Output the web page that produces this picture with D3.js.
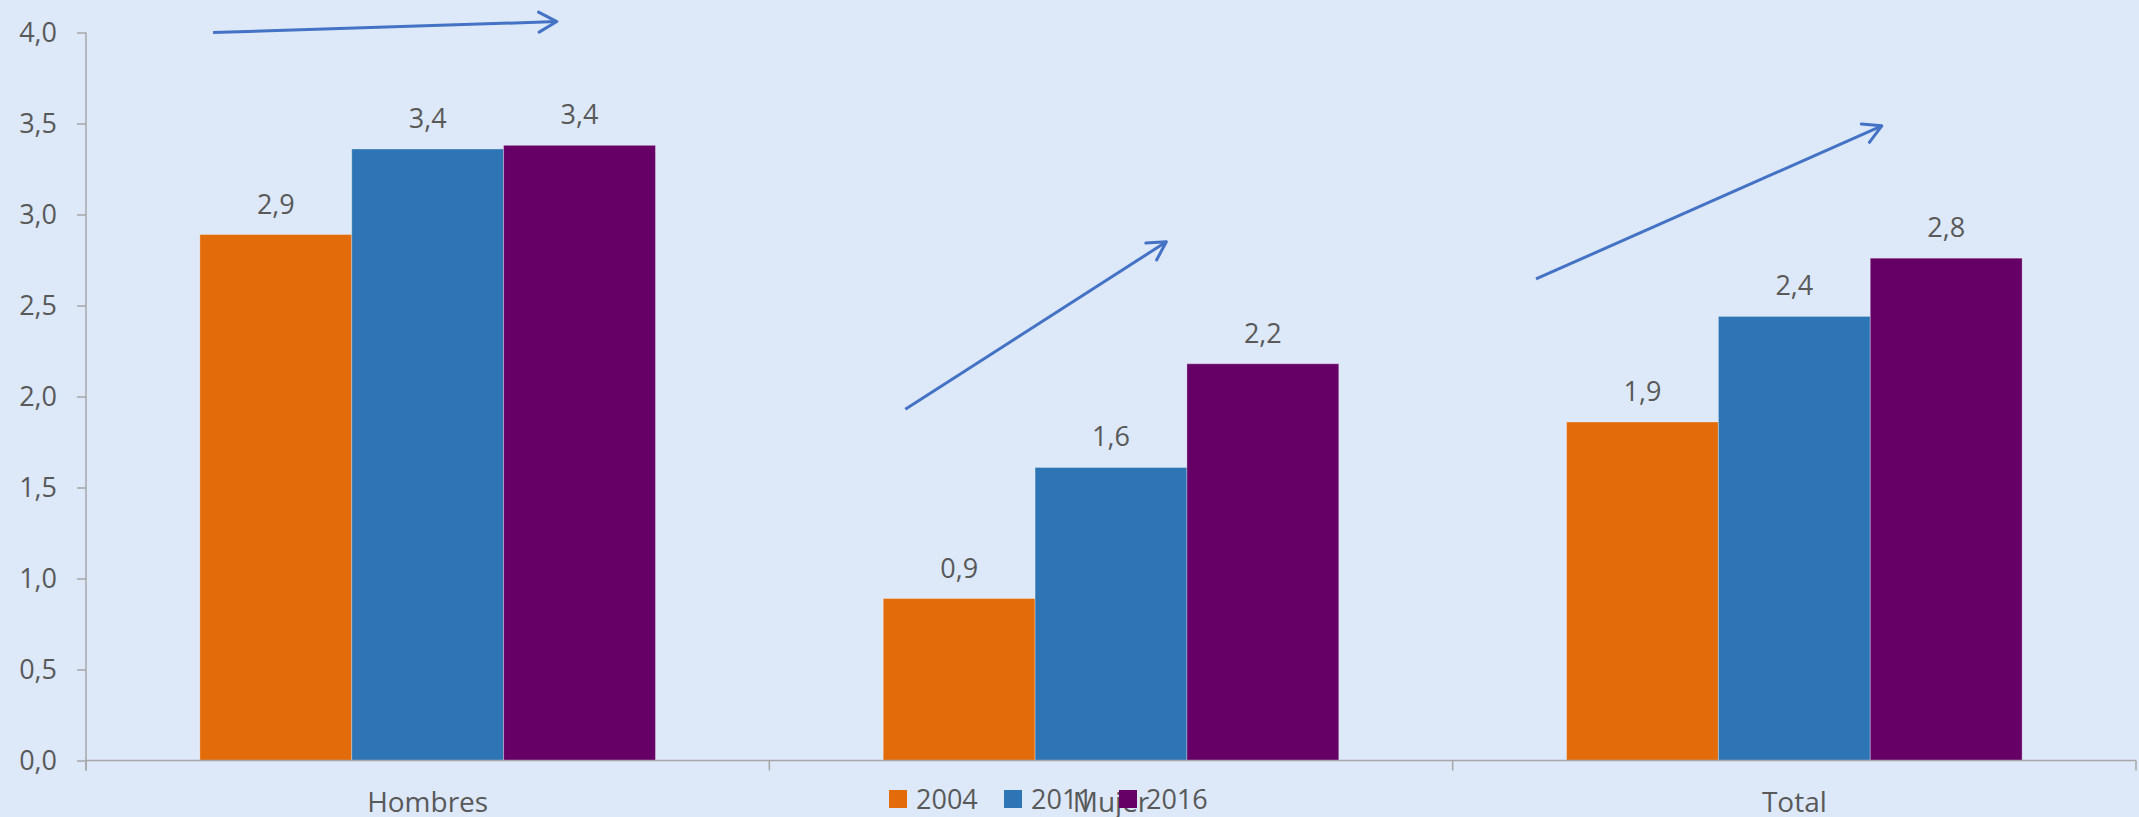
<!DOCTYPE html>
<html>
<head>
<meta charset="utf-8">
<script src="https://cdn.jsdelivr.net/npm/d3@7"></script>
<style>
  html, body { margin: 0; padding: 0; background: #dde9f9; }
  svg { display: block; }
  text { font-family: "Open Sans", sans-serif; fill: #595959; }
</style>
</head>
<body>
<div id="chart"></div>
<script>
// data
var categories = ["Hombres", "Mujer", "Total"];
var years = ["2004", "2011", "2016"];
var v2004 = [2.89, 0.89, 1.86];
var v2011 = [3.36, 1.61, 2.44];
var v2016 = [3.38, 2.18, 2.76];
var yTicks = [0, 0.5, 1, 1.5, 2, 2.5, 3, 3.5, 4];
var colors = ["#e36c0a", "#2e75b6", "#660066"];

// trend arrows: category, [fraction of band, value] from -> to
var arrowCats = ["Hombres", "Mujer", "Total"];
var arrowFrom = [[0.186, 4.0], [0.199, 1.93], [0.122, 2.646]];
var arrowTo = [[0.689, 4.06], [0.581, 2.85], [0.628, 3.487]];

var w = 2139, h = 817;
// note: "top" is window.top, can't use it as a var name
var mLeft = 86, mRight = 2136, mTop = 32.5, mBottom = 760.5;

var series = [v2004, v2011, v2016];
var rows = categories.map(function(c, i) {
  return { cat: c, vals: years.map(function(yr, j) { return { year: yr, v: series[j][i], k: j }; }) };
});

var loc = d3.formatLocale({ decimal: ",", thousands: ".", grouping: [3], currency: ["", "€"] });
var fmt = loc.format(".1f");

var svg = d3.select("#chart").append("svg").attr("width", w).attr("height", h);

var x0 = d3.scaleBand().domain(categories).range([mLeft, mRight]).padding(0);
var x1 = d3.scaleBand().domain(years).range([0, x0.bandwidth()]).paddingInner(0).paddingOuter(0.75);
var y = d3.scaleLinear().domain([0, 4]).range([mBottom, mTop]);

// y axis
var yAxis = svg.append("g")
  .attr("transform", "translate(" + mLeft + ",0)")
  .call(d3.axisLeft(y).tickValues(yTicks).tickSize(9).tickPadding(20).tickFormat(fmt));
yAxis.select(".domain").attr("stroke", "#a6a6a6").attr("stroke-width", 1.5)
  .attr("d", "M0," + mTop + "V" + (mBottom + 10));
yAxis.selectAll(".tick line").attr("stroke", "#a6a6a6").attr("stroke-width", 1.5);
yAxis.selectAll(".tick text").style("font-size", "27px").style("fill", "#595959")
  .style("font-family", "'Open Sans', sans-serif");

// bars
var groups = svg.append("g").selectAll("g").data(rows).enter().append("g")
  .attr("transform", function(d) { return "translate(" + x0(d.cat) + ",0)"; });

groups.selectAll("rect").data(function(d) { return d.vals; }).enter().append("rect")
  .attr("x", function(d) { return x1(d.year); })
  .attr("y", function(d) { return y(d.v); })
  .attr("width", x1.bandwidth())
  .attr("height", function(d) { return y(0) - y(d.v); })
  .attr("fill", function(d) { return colors[d.k]; })
  .attr("stroke", "#ffffff").attr("stroke-opacity", 0.3).attr("stroke-width", 1);

groups.selectAll("text.val").data(function(d) { return d.vals; }).enter().append("text")
  .attr("class", "val")
  .attr("x", function(d) { return x1(d.year) + x1.bandwidth() / 2; })
  .attr("y", function(d) { return y(d.v) - 21; })
  .attr("text-anchor", "middle")
  .style("font-size", "27px")
  .text(function(d) { return fmt(d.v); });

// x axis
var xg = svg.append("g");
xg.append("line").attr("x1", mLeft).attr("x2", mRight).attr("y1", y(0)).attr("y2", y(0))
  .attr("stroke", "#a6a6a6").attr("stroke-width", 1.5);
var bounds = categories.map(function(c) { return x0(c); }).concat([mRight]);
xg.selectAll("line.tk").data(bounds).enter().append("line").attr("class", "tk")
  .attr("x1", function(d) { return d; }).attr("x2", function(d) { return d; })
  .attr("y1", y(0)).attr("y2", y(0) + 10)
  .attr("stroke", "#a6a6a6").attr("stroke-width", 1.5);
xg.selectAll("text").data(categories).enter().append("text")
  .attr("x", function(d) { return x0(d) + x0.bandwidth() / 2; })
  .attr("y", 812)
  .attr("text-anchor", "middle")
  .style("font-size", "28px")
  .text(function(d) { return d; });

// legend
var leg = svg.append("g").attr("transform", "translate(889,790)");
var li = leg.selectAll("g").data(years).enter().append("g")
  .attr("transform", function(d, i) { return "translate(" + i * 115 + ",0)"; });
li.append("rect").attr("width", 18).attr("height", 18)
  .attr("fill", function(d, i) { return colors[i]; });
li.append("text").attr("x", 27).attr("y", 19).style("font-size", "27px")
  .text(function(d) { return d; });

// arrows
var defs = svg.append("defs");
defs.append("marker").attr("id", "head")
  .attr("markerUnits", "userSpaceOnUse")
  .attr("viewBox", "-22 -12 24 24").attr("refX", 0).attr("refY", 0)
  .attr("markerWidth", 24).attr("markerHeight", 24).attr("orient", "auto")
  .append("path").attr("d", "M-18,-10L0,0L-18,10")
  .attr("fill", "none").attr("stroke", "#4472c4").attr("stroke-width", 3)
  .attr("stroke-linecap", "round").attr("stroke-linejoin", "round");

svg.append("g").selectAll("line").data(arrowCats).enter().append("line")
  .attr("x1", function(d, i) { return x0(d) + arrowFrom[i][0] * x0.bandwidth(); })
  .attr("y1", function(d, i) { return y(arrowFrom[i][1]); })
  .attr("x2", function(d, i) { return x0(d) + arrowTo[i][0] * x0.bandwidth(); })
  .attr("y2", function(d, i) { return y(arrowTo[i][1]); })
  .attr("stroke", "#4472c4").attr("stroke-width", 3)
  .attr("marker-end", "url(#head)");
</script>
</body>
</html>
